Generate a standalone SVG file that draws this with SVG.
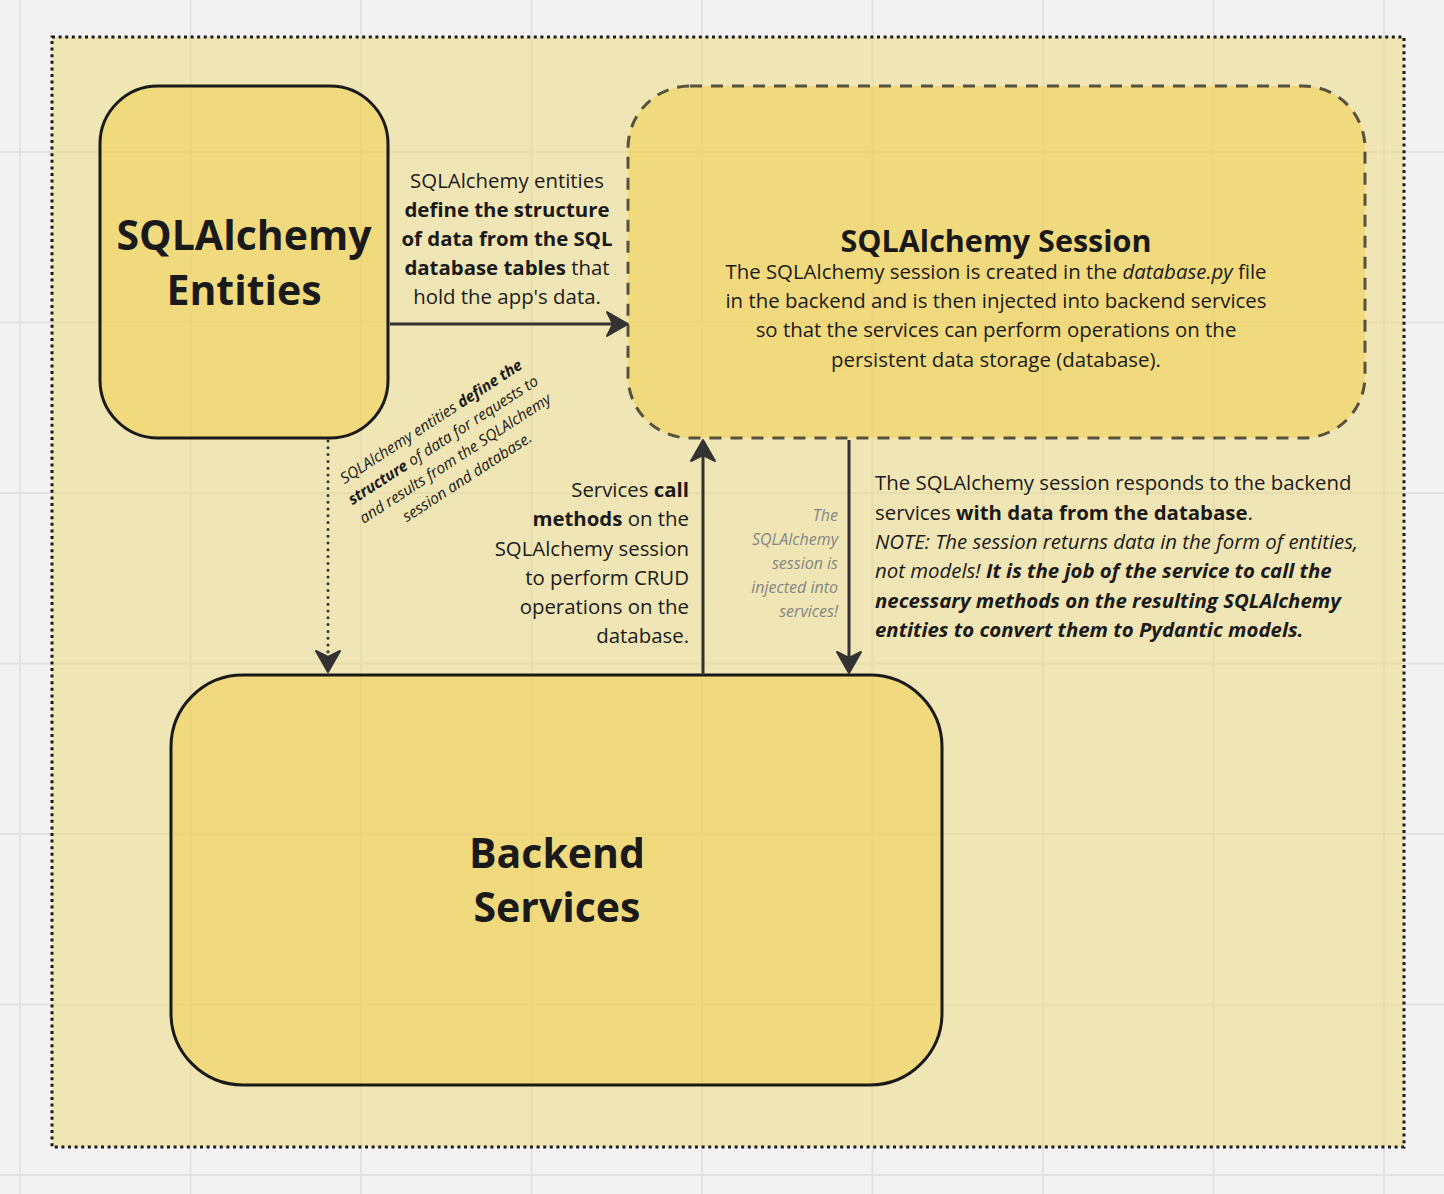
<svg xmlns="http://www.w3.org/2000/svg" width="1444" height="1194" viewBox="0 0 1444 1194">
<style>
text{font-family:"Open Sans","Noto Sans","DejaVu Sans",sans-serif;fill:#1a1a1a}
.t20{font-size:20.4px}
.b{font-weight:700}
.i{font-style:italic}
.m{text-anchor:middle}
.e{text-anchor:end}
.title{font-size:41px;font-weight:700;text-anchor:middle}
.rot{font-size:15.4px;font-style:italic;text-anchor:middle}
.grey{font-size:16px;font-style:italic;text-anchor:end;fill:#858585}
.grid line{stroke:#e2e2e2;stroke-width:2}
.node{stroke:#1a1a1a;stroke-width:3;fill:#f1d15a;fill-opacity:0.6}
.conn{stroke:#333;stroke-width:3;fill:none}
</style>
<defs>
<marker id="ah" viewBox="-24 -15 28 30" refX="-8" refY="0" markerWidth="28" markerHeight="30" markerUnits="userSpaceOnUse" orient="auto">
<path d="M0,0 L-21,-12 L-15,0 L-21,12 Z" fill="#333" stroke="#333" stroke-width="2" stroke-linejoin="round"/>
</marker>
</defs>
<rect width="1444" height="1194" fill="#f2f2f2"/>
<g class="grid">
<line x1="20" y1="0" x2="20" y2="1194"/>
<line x1="190.5" y1="0" x2="190.5" y2="1194"/>
<line x1="361" y1="0" x2="361" y2="1194"/>
<line x1="531.5" y1="0" x2="531.5" y2="1194"/>
<line x1="702" y1="0" x2="702" y2="1194"/>
<line x1="872.5" y1="0" x2="872.5" y2="1194"/>
<line x1="1043" y1="0" x2="1043" y2="1194"/>
<line x1="1213.5" y1="0" x2="1213.5" y2="1194"/>
<line x1="1384" y1="0" x2="1384" y2="1194"/>
<line x1="0" y1="152" x2="1444" y2="152"/>
<line x1="0" y1="322.5" x2="1444" y2="322.5"/>
<line x1="0" y1="493" x2="1444" y2="493"/>
<line x1="0" y1="663.5" x2="1444" y2="663.5"/>
<line x1="0" y1="834" x2="1444" y2="834"/>
<line x1="0" y1="1004.5" x2="1444" y2="1004.5"/>
<line x1="0" y1="1175" x2="1444" y2="1175"/>
</g>
<g id="frame">
<rect x="52" y="37" width="1352" height="1110" fill="#eed876" fill-opacity="0.5" stroke="#1a1a1a" stroke-width="3" stroke-dasharray="3 3.6"/>
</g>
<g id="entities">
<rect class="node" x="100" y="86" width="288" height="352" rx="58" ry="58"/>
<text class="title" x="244" y="250">SQLAlchemy</text>
<text class="title" x="244" y="305">Entities</text>
</g>
<g id="session">
<rect x="628" y="86" width="737" height="352" rx="62" ry="62" fill="#f1d15a" fill-opacity="0.6" stroke="#1a1a1a" stroke-opacity="0.72" stroke-width="3" stroke-dasharray="12 9"/>
<text x="996" y="252" font-size="30.5" font-weight="700" text-anchor="middle">SQLAlchemy Session</text>
<text class="t20 m" x="996" y="279">The SQLAlchemy session is created in the <tspan class="i">database.py</tspan> file</text>
<text class="t20 m" x="996" y="308">in the backend and is then injected into backend services</text>
<text class="t20 m" x="996" y="337">so that the services can perform operations on the</text>
<text class="t20 m" x="996" y="367">persistent data storage (database).</text>
</g>
<g id="backend">
<rect class="node" x="171" y="675" width="771" height="410" rx="72" ry="72"/>
<text class="title" x="557" y="868">Backend</text>
<text class="title" x="557" y="922">Services</text>
</g>
<g id="connectors">
<path class="conn" d="M390,324 L620,324" marker-end="url(#ah)"/>
<path class="conn" d="M328,441 L328,664" stroke-dasharray="0 6.8" stroke-linecap="round" stroke-width="3.5" marker-end="url(#ah)"/>
<path class="conn" d="M703,675 L703,448" marker-end="url(#ah)"/>
<path class="conn" d="M849,440 L849,665" marker-end="url(#ah)"/>
</g>
<g id="labels">
<text class="t20 m" x="507" y="188">SQLAlchemy entities</text>
<text class="t20 m b" x="507" y="217">define the structure</text>
<text class="t20 m b" x="507" y="246">of data from the SQL</text>
<text class="t20 m" x="507" y="275"><tspan class="b">database tables</tspan> that</text>
<text class="t20 m" x="507" y="304">hold the app's data.</text>
<g transform="translate(434,426) rotate(-33)">
<text class="rot" x="0" y="0">SQLAlchemy entities <tspan font-weight="700">define the</tspan></text>
<text class="rot" x="0" y="22"><tspan font-weight="700">structure</tspan> of data for requests to</text>
<text class="rot" x="0" y="44">and results from the SQLAlchemy</text>
<text class="rot" x="0" y="66">session and database.</text>
</g>
<text class="t20 e" x="689" y="497">Services <tspan class="b">call</tspan></text>
<text class="t20 e" x="689" y="526"><tspan class="b">methods</tspan> on the</text>
<text class="t20 e" x="689" y="556">SQLAlchemy session</text>
<text class="t20 e" x="689" y="585">to perform CRUD</text>
<text class="t20 e" x="689" y="614">operations on the</text>
<text class="t20 e" x="689" y="643">database.</text>
<text class="grey" x="838" y="521">The</text>
<text class="grey" x="838" y="545">SQLAlchemy</text>
<text class="grey" x="838" y="569">session is</text>
<text class="grey" x="838" y="593">injected into</text>
<text class="grey" x="838" y="617">services!</text>
<text class="t20" x="875" y="490">The SQLAlchemy session responds to the backend</text>
<text class="t20" x="875" y="520">services <tspan class="b">with data from the database</tspan>.</text>
<text class="t20 i" x="875" y="549">NOTE: The session returns data in the form of entities,</text>
<text class="t20 i" x="875" y="578">not models! <tspan class="b">It is the job of the service to call the</tspan></text>
<text class="t20 i b" x="875" y="608">necessary methods on the resulting SQLAlchemy</text>
<text class="t20 i b" x="875" y="637">entities to convert them to Pydantic models.</text>
</g>
</svg>
